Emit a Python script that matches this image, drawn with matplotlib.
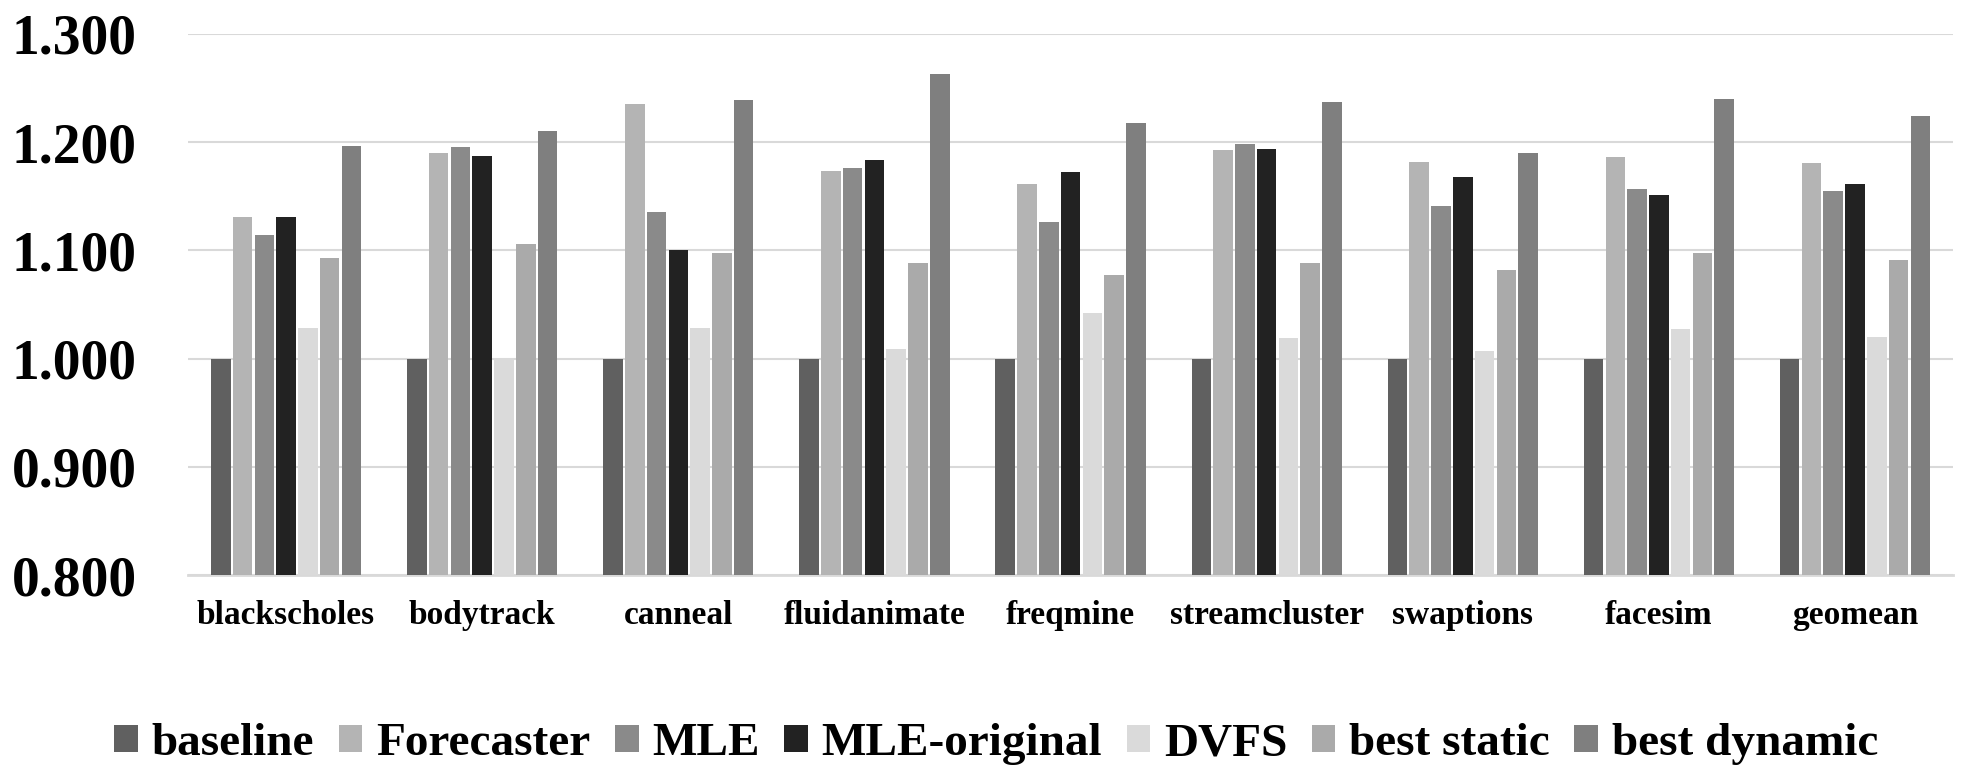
import numpy as np
import matplotlib
matplotlib.use("Agg")
from matplotlib import pyplot as plt

plt.rcParams['font.family'] = ['Liberation Serif', 'DejaVu Serif']
plt.rcParams['font.weight'] = 'bold'

benchmarks = ['blackscholes', 'bodytrack', 'canneal', 'fluidanimate', 'freqmine',
              'streamcluster', 'swaptions', 'facesim', 'geomean']
series = ['baseline', 'Forecaster', 'MLE', 'MLE-original', 'DVFS', 'best static', 'best dynamic']

baseline     = [1.000, 1.000, 1.000, 1.000, 1.000, 1.000, 1.000, 1.000, 1.000]
forecaster   = [1.131, 1.190, 1.235, 1.173, 1.161, 1.193, 1.182, 1.186, 1.181]
mle          = [1.114, 1.195, 1.135, 1.176, 1.126, 1.198, 1.141, 1.157, 1.155]
mle_original = [1.131, 1.187, 1.100, 1.183, 1.172, 1.194, 1.168, 1.151, 1.161]
dvfs         = [1.028, 1.001, 1.028, 1.009, 1.042, 1.019, 1.007, 1.027, 1.020]
best_static  = [1.093, 1.106, 1.098, 1.088, 1.077, 1.088, 1.082, 1.098, 1.091]
best_dynamic = [1.196, 1.210, 1.239, 1.263, 1.218, 1.237, 1.190, 1.240, 1.224]

values = [baseline, forecaster, mle, mle_original, dvfs, best_static, best_dynamic]
colors = ['#606060', '#b4b4b4', '#8a8a8a', '#222222', '#dadada', '#aaaaaa', '#7f7f7f']

fig = plt.figure(figsize=(19.69, 7.68), dpi=100)
ax = fig.add_axes([0.0955, 0.251, 0.8964, 0.705])

x = np.arange(len(benchmarks))
slot = 0.111
for i, (name, vals, c) in enumerate(zip(series, values, colors)):
    ax.bar(x + (i - 3) * slot, vals, width=slot * 0.9, color=c, label=name, zorder=3)

ax.set_xlim(-0.5, len(benchmarks) - 0.5)
ax.set_ylim(0.8, 1.3)
ax.set_yticks([0.8, 0.9, 1.0, 1.1, 1.2, 1.3])
ax.set_yticklabels(['%.3f' % v for v in [0.8, 0.9, 1.0, 1.1, 1.2, 1.3]], fontsize=40, fontweight='bold')
ax.set_xticks(x)
ax.set_xticklabels(benchmarks, fontsize=24, fontweight='bold')
ax.tick_params(axis='both', length=0)
ax.tick_params(axis='y', pad=37)
ax.tick_params(axis='x', pad=18)

ax.yaxis.grid(True, color='#d9d9d9', linewidth=1.5, zorder=0)
for s in ['top', 'right', 'left']:
    ax.spines[s].set_visible(False)
ax.spines['bottom'].set_color('#d9d9d9')
ax.spines['bottom'].set_linewidth(2)

fig.legend(loc='center', bbox_to_anchor=(0.506, 0.031), ncol=7, frameon=False,
           prop={'size': 34, 'weight': 'bold'}, handlelength=0.5, handleheight=0.5,
           handletextpad=0.29, columnspacing=0.52)

fig.savefig('out.png', dpi=100)
